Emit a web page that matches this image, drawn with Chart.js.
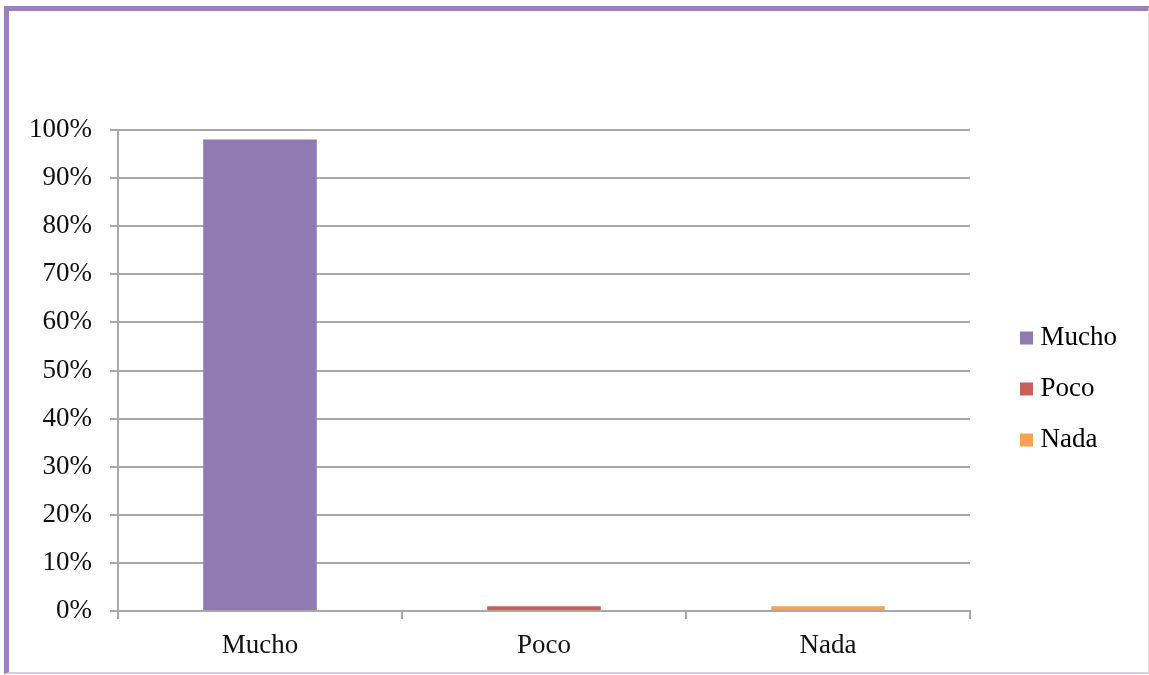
<!DOCTYPE html>
<html>
<head>
<meta charset="utf-8">
<script src="https://cdn.jsdelivr.net/npm/chart.js@4"></script>
<style>
  html, body { margin: 0; padding: 0; background: #fff; }
  #frame {
    position: absolute; left: 4px; top: 6px;
    width: 1139px; height: 661px;
    border-top: 5px solid #9a81bd;
    border-left: 5px solid #9a81bd;
    border-bottom: 2px solid #d9cde8;
    border-right: 1px solid #e2e2e2;
  }
  #myChart { display: block; }
</style>
</head>
<body>
<div id="frame">
  <canvas id="myChart" width="1139" height="661"></canvas>
</div>
<script>
// values (percent)
const categories = ['Mucho', 'Poco', 'Nada'];
const values = [98, 1, 1];
const barColors = ['#8f7bb1', '#c9615b', '#f9a152'];
const yTicks = [0, 10, 20, 30, 40, 50, 60, 70, 80, 90, 100];

const font = { family: 'Liberation Serif', size: 27 };
const gridGray = '#a8a8a8';

const ctx = document.getElementById('myChart').getContext('2d');

const data = {
    labels: categories,
    datasets: [{
        label: 'Serie 1',
        data: values,
        backgroundColor: barColors,
        borderWidth: 0,
        categoryPercentage: 0.4,
        barPercentage: 1.0
    }]
};

// empty axes, only used as spacers around the plot
const spacer = (size, horizontal) => ({
    type: 'linear',
    display: true,
    grid: { display: false, drawTicks: false },
    border: { display: false },
    ticks: { display: false },
    afterFit: (s) => { if (horizontal) s.height = size; else s.width = size; }
});

const config = {
    type: 'bar',
    data: data,
    options: {
        responsive: false,
        animation: false,
        layout: { padding: { left: 2, top: 95, right: 21, bottom: 0 } },
        plugins: {
            tooltip: { enabled: false },
            legend: {
                position: 'right',
                labels: {
                    font: font,
                    color: '#111',
                    // square marker drawn as point style so the text sits close to it
                    usePointStyle: true,
                    pointStyle: 'rect',
                    boxWidth: 1,
                    boxHeight: 13,
                    padding: 24,
                    // one legend entry per category, like the original
                    generateLabels: (chart) => chart.data.labels.map((lab, i) => ({
                        text: lab,
                        fillStyle: barColors[i],
                        strokeStyle: barColors[i],
                        lineWidth: 0,
                        pointStyle: 'rect',
                        index: i,
                        datasetIndex: 0
                    }))
                }
            }
        },
        scales: {
            x: {
                grid: {
                    offset: true,
                    drawOnChartArea: false,
                    drawTicks: true,
                    tickLength: 8,
                    color: gridGray,
                    lineWidth: 2
                },
                border: { color: gridGray, width: 2 },
                ticks: { font: Object.assign({ lineHeight: 1.0 }, font), color: '#111', padding: 13 }
            },
            y: {
                min: 0,
                max: 100,
                afterBuildTicks: (axis) => { axis.ticks = yTicks.map(v => ({ value: v })); },
                grid: { color: gridGray, lineWidth: 2, tickLength: 8 },
                border: { color: gridGray, width: 2 },
                ticks: {
                    font: font,
                    color: '#111',
                    padding: 18,
                    callback: (v) => v + '%'
                }
            },
            xTop: Object.assign(spacer(24, true), { axis: 'x', position: 'top' }),
            yRight: Object.assign(spacer(32, false), { axis: 'y', position: 'right' })
        }
    }
};

const myChart = new Chart(ctx, config);
</script>
</body>
</html>
